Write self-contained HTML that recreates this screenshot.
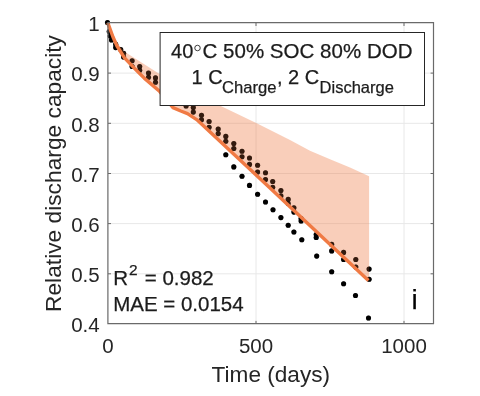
<!DOCTYPE html>
<html><head><meta charset="utf-8"><style>
html,body{margin:0;padding:0;background:#fff;width:480px;height:396px;overflow:hidden}
svg{display:block;will-change:transform}
text{font-family:"Liberation Sans",sans-serif;fill:#1c1c1c;stroke:#1c1c1c;stroke-width:0.25px}
.ax text,text.ax{fill:#262626;stroke:none}
</style></head><body>
<svg width="480" height="396" viewBox="0 0 480 396">
<rect width="480" height="396" fill="#fff"/>
<g stroke="#e8e8e8" stroke-width="1" fill="none"><line x1="108" y1="273.8" x2="433.6" y2="273.8"/><line x1="108" y1="223.6" x2="433.6" y2="223.6"/><line x1="108" y1="173.5" x2="433.6" y2="173.5"/><line x1="108" y1="123.3" x2="433.6" y2="123.3"/><line x1="108" y1="73.1" x2="433.6" y2="73.1"/><line x1="256.0" y1="23" x2="256.0" y2="323.9"/><line x1="404.0" y1="23" x2="404.0" y2="323.9"/></g>
<g fill="#000"><circle cx="107.5" cy="22.6" r="2.55"/><circle cx="109.2" cy="31.5" r="2.55"/><circle cx="110.2" cy="36.0" r="2.55"/><circle cx="111.5" cy="40.0" r="2.55"/><circle cx="115.7" cy="44.4" r="2.55"/><circle cx="115.7" cy="47.6" r="2.55"/><circle cx="120.7" cy="49.5" r="2.55"/><circle cx="123.6" cy="53.3" r="2.55"/><circle cx="123.6" cy="57.0" r="2.55"/><circle cx="132.1" cy="60.8" r="2.55"/><circle cx="132.1" cy="66.5" r="2.55"/><circle cx="139.7" cy="66.5" r="2.55"/><circle cx="139.7" cy="70.3" r="2.55"/><circle cx="148.5" cy="73.1" r="2.55"/><circle cx="148.5" cy="77.2" r="2.55"/><circle cx="155.5" cy="77.9" r="2.55"/><circle cx="155.5" cy="82.3" r="2.55"/><circle cx="186.1" cy="106.0" r="2.55"/><circle cx="193.3" cy="107.6" r="2.55"/><circle cx="193.3" cy="112.1" r="2.55"/><circle cx="201.5" cy="115.2" r="2.55"/><circle cx="201.5" cy="119.7" r="2.55"/><circle cx="209.1" cy="121.5" r="2.55"/><circle cx="209.1" cy="127.3" r="2.55"/><circle cx="218.2" cy="129.1" r="2.55"/><circle cx="218.2" cy="133.6" r="2.55"/><circle cx="225.8" cy="136.4" r="2.55"/><circle cx="225.8" cy="141.2" r="2.55"/><circle cx="233.8" cy="143.6" r="2.55"/><circle cx="233.8" cy="148.5" r="2.55"/><circle cx="242.0" cy="151.3" r="2.55"/><circle cx="242.0" cy="156.8" r="2.55"/><circle cx="249.5" cy="158.0" r="2.55"/><circle cx="249.5" cy="164.4" r="2.55"/><circle cx="257.6" cy="165.2" r="2.55"/><circle cx="257.6" cy="172.0" r="2.55"/><circle cx="265.5" cy="172.7" r="2.55"/><circle cx="265.5" cy="179.5" r="2.55"/><circle cx="272.7" cy="181.5" r="2.55"/><circle cx="272.7" cy="187.3" r="2.55"/><circle cx="280.9" cy="190.6" r="2.55"/><circle cx="280.9" cy="195.9" r="2.55"/><circle cx="288.2" cy="199.4" r="2.55"/><circle cx="288.2" cy="203.5" r="2.55"/><circle cx="293.9" cy="207.7" r="2.55"/><circle cx="293.9" cy="212.1" r="2.55"/><circle cx="301.1" cy="218.6" r="2.55"/><circle cx="301.1" cy="221.0" r="2.55"/><circle cx="316.2" cy="234.5" r="2.55"/><circle cx="316.2" cy="237.5" r="2.55"/><circle cx="331.7" cy="244.4" r="2.55"/><circle cx="331.7" cy="250.9" r="2.55"/><circle cx="343.6" cy="252.4" r="2.55"/><circle cx="343.6" cy="259.5" r="2.55"/><circle cx="355.8" cy="259.5" r="2.55"/><circle cx="355.8" cy="267.1" r="2.55"/><circle cx="369.1" cy="269.1" r="2.55"/><circle cx="369.1" cy="279.2" r="2.55"/><circle cx="225.8" cy="154.8" r="2.55"/><circle cx="233.8" cy="166.9" r="2.55"/><circle cx="242.0" cy="176.3" r="2.55"/><circle cx="249.5" cy="185.4" r="2.55"/><circle cx="257.6" cy="194.2" r="2.55"/><circle cx="265.5" cy="202.0" r="2.55"/><circle cx="273.0" cy="209.8" r="2.55"/><circle cx="280.9" cy="217.6" r="2.55"/><circle cx="288.2" cy="225.2" r="2.55"/><circle cx="293.9" cy="232.0" r="2.55"/><circle cx="301.8" cy="239.8" r="2.55"/><circle cx="316.7" cy="256.1" r="2.55"/><circle cx="331.7" cy="271.7" r="2.55"/><circle cx="343.6" cy="283.8" r="2.55"/><circle cx="355.5" cy="295.5" r="2.55"/><circle cx="368.5" cy="318.0" r="2.55"/></g>
<path d="M107.6,22.6 L112.0,34.0 L118.0,44.0 L125.0,52.0 L159.2,73.8 L220.8,106.0 L256.2,122.9 L290.0,140.0 L310.0,150.8 L330.0,159.2 L350.0,167.5 L369.1,176.2 L369.1,280.4 L368.4,280.4 L270.0,188.1 L196.7,119.6 L187.5,113.6 L180.8,111.0 L173.0,107.6 L159.2,91.0 L144.5,78.4 L134.5,68.3 L124.5,57.8 L117.0,46.0 L113.0,37.0 L107.8,22.8 Z" fill="#f07a44" fill-opacity="0.37" stroke="none"/>
<g fill="#000" fill-opacity="0.4"><circle cx="107.5" cy="22.6" r="2.55"/><circle cx="109.2" cy="31.5" r="2.55"/><circle cx="110.2" cy="36.0" r="2.55"/><circle cx="111.5" cy="40.0" r="2.55"/><circle cx="115.7" cy="44.4" r="2.55"/><circle cx="115.7" cy="47.6" r="2.55"/><circle cx="120.7" cy="49.5" r="2.55"/><circle cx="123.6" cy="53.3" r="2.55"/><circle cx="123.6" cy="57.0" r="2.55"/><circle cx="132.1" cy="60.8" r="2.55"/><circle cx="132.1" cy="66.5" r="2.55"/><circle cx="139.7" cy="66.5" r="2.55"/><circle cx="139.7" cy="70.3" r="2.55"/><circle cx="148.5" cy="73.1" r="2.55"/><circle cx="148.5" cy="77.2" r="2.55"/><circle cx="155.5" cy="77.9" r="2.55"/><circle cx="155.5" cy="82.3" r="2.55"/><circle cx="186.1" cy="106.0" r="2.55"/><circle cx="193.3" cy="107.6" r="2.55"/><circle cx="193.3" cy="112.1" r="2.55"/><circle cx="201.5" cy="115.2" r="2.55"/><circle cx="201.5" cy="119.7" r="2.55"/><circle cx="209.1" cy="121.5" r="2.55"/><circle cx="209.1" cy="127.3" r="2.55"/><circle cx="218.2" cy="129.1" r="2.55"/><circle cx="218.2" cy="133.6" r="2.55"/><circle cx="225.8" cy="136.4" r="2.55"/><circle cx="225.8" cy="141.2" r="2.55"/><circle cx="233.8" cy="143.6" r="2.55"/><circle cx="233.8" cy="148.5" r="2.55"/><circle cx="242.0" cy="151.3" r="2.55"/><circle cx="242.0" cy="156.8" r="2.55"/><circle cx="249.5" cy="158.0" r="2.55"/><circle cx="249.5" cy="164.4" r="2.55"/><circle cx="257.6" cy="165.2" r="2.55"/><circle cx="257.6" cy="172.0" r="2.55"/><circle cx="265.5" cy="172.7" r="2.55"/><circle cx="265.5" cy="179.5" r="2.55"/><circle cx="272.7" cy="181.5" r="2.55"/><circle cx="272.7" cy="187.3" r="2.55"/><circle cx="280.9" cy="190.6" r="2.55"/><circle cx="280.9" cy="195.9" r="2.55"/><circle cx="288.2" cy="199.4" r="2.55"/><circle cx="288.2" cy="203.5" r="2.55"/><circle cx="293.9" cy="207.7" r="2.55"/><circle cx="293.9" cy="212.1" r="2.55"/><circle cx="301.1" cy="218.6" r="2.55"/><circle cx="301.1" cy="221.0" r="2.55"/><circle cx="316.2" cy="234.5" r="2.55"/><circle cx="316.2" cy="237.5" r="2.55"/><circle cx="331.7" cy="244.4" r="2.55"/><circle cx="331.7" cy="250.9" r="2.55"/><circle cx="343.6" cy="252.4" r="2.55"/><circle cx="343.6" cy="259.5" r="2.55"/><circle cx="355.8" cy="259.5" r="2.55"/><circle cx="355.8" cy="267.1" r="2.55"/><circle cx="369.1" cy="269.1" r="2.55"/><circle cx="369.1" cy="279.2" r="2.55"/><circle cx="225.8" cy="154.8" r="2.55"/><circle cx="233.8" cy="166.9" r="2.55"/><circle cx="242.0" cy="176.3" r="2.55"/><circle cx="249.5" cy="185.4" r="2.55"/><circle cx="257.6" cy="194.2" r="2.55"/><circle cx="265.5" cy="202.0" r="2.55"/><circle cx="273.0" cy="209.8" r="2.55"/><circle cx="280.9" cy="217.6" r="2.55"/><circle cx="288.2" cy="225.2" r="2.55"/><circle cx="293.9" cy="232.0" r="2.55"/><circle cx="301.8" cy="239.8" r="2.55"/><circle cx="316.7" cy="256.1" r="2.55"/><circle cx="331.7" cy="271.7" r="2.55"/><circle cx="343.6" cy="283.8" r="2.55"/><circle cx="355.5" cy="295.5" r="2.55"/><circle cx="368.5" cy="318.0" r="2.55"/></g>
<path d="M107.8,22.8 L113.0,37.0 L117.0,46.0 L124.5,57.8 L134.5,68.3 L144.5,78.4 L159.2,91.0 L173.0,107.6 L180.8,111.0 L187.5,113.6 L196.7,119.6 L270.0,188.1 L368.4,280.4" fill="none" stroke="#f07a44" stroke-width="3.4" stroke-linejoin="round" stroke-linecap="butt"/>
<g stroke="#6a6a6a" stroke-width="1" fill="none">
<path d="M107.9,323.7 L107.9,22.7 L433.5,22.7 L433.5,323.7 Z" stroke-width="1.2"/>
<line x1="108" y1="273.8" x2="111" y2="273.8"/><line x1="430.6" y1="273.8" x2="433.6" y2="273.8"/><line x1="108" y1="223.6" x2="111" y2="223.6"/><line x1="430.6" y1="223.6" x2="433.6" y2="223.6"/><line x1="108" y1="173.5" x2="111" y2="173.5"/><line x1="430.6" y1="173.5" x2="433.6" y2="173.5"/><line x1="108" y1="123.3" x2="111" y2="123.3"/><line x1="430.6" y1="123.3" x2="433.6" y2="123.3"/><line x1="108" y1="73.1" x2="111" y2="73.1"/><line x1="430.6" y1="73.1" x2="433.6" y2="73.1"/><line x1="256.0" y1="323.9" x2="256.0" y2="320.9"/><line x1="256.0" y1="23" x2="256.0" y2="26"/><line x1="404.0" y1="323.9" x2="404.0" y2="320.9"/><line x1="404.0" y1="23" x2="404.0" y2="26"/>
</g>
<g font-size="20.5" class="ax"><text x="99.7" y="31.3" text-anchor="end">1</text><text x="99.7" y="81.4" text-anchor="end">0.9</text><text x="99.7" y="131.6" text-anchor="end">0.8</text><text x="99.7" y="181.8" text-anchor="end">0.7</text><text x="99.7" y="231.9" text-anchor="end">0.6</text><text x="99.7" y="282.1" text-anchor="end">0.5</text><text x="99.7" y="332.2" text-anchor="end">0.4</text><text x="108.0" y="352.5" text-anchor="middle">0</text><text x="256.0" y="352.5" text-anchor="middle">500</text><text x="404.0" y="352.5" text-anchor="middle">1000</text></g>
<text class="ax" font-size="22.75" transform="translate(61,173.5) rotate(-90)" text-anchor="middle">Relative discharge capacity</text>
<text class="ax" font-size="22.6" x="270.8" y="382.3" text-anchor="middle">Time (days)</text>
<rect x="160.1" y="32.5" width="264.4" height="73" fill="#fff" stroke="#262626" stroke-width="1"/>
<text font-size="20" x="171.1" y="57.8">40</text>
<circle cx="197.5" cy="48" r="2.75" fill="none" stroke="#262626" stroke-width="0.9"/>
<text font-size="20.5" x="202.5" y="57.8" textLength="210" lengthAdjust="spacing">C 50% SOC 80% DOD</text>
<text font-size="20" x="191.6" y="83.8">1 C</text>
<text font-size="16.6" x="222" y="93.3">Charge</text>
<text font-size="20" x="277" y="83.8">, 2 C</text>
<text font-size="16.5" x="319.6" y="93.3">Discharge</text>
<text font-size="20.5" x="113.3" y="285.2">R</text><text font-size="15.5" x="129" y="275.2">2</text><text font-size="20.5" x="144.8" y="285.2">= 0.982</text>
<text font-size="20.5" x="113.2" y="310.6">MAE = 0.0154</text>
<text font-size="28" x="411.6" y="308.5" style="fill:#000">i</text>
</svg>
</body></html>
